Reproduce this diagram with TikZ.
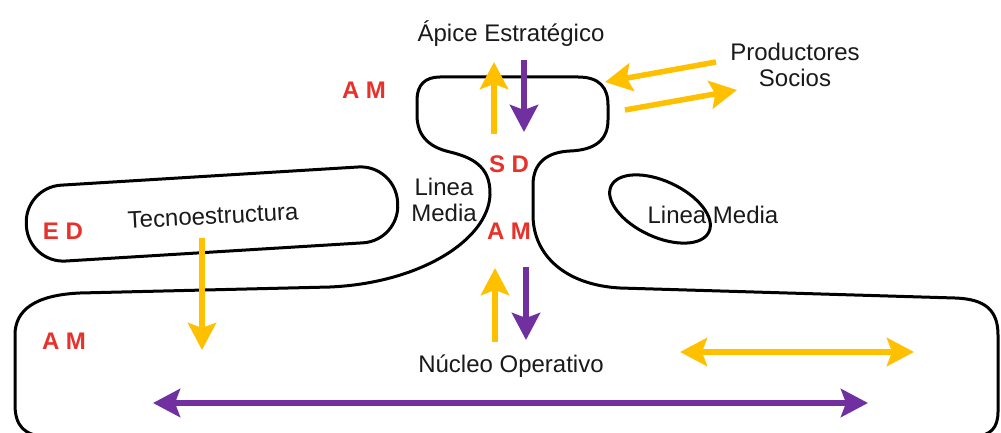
\documentclass[tikz,border=0pt]{standalone}
\usepackage{fontspec}
\setmainfont{Liberation Sans}
\usetikzlibrary{arrows.meta,shapes.geometric}
\definecolor{gold}{HTML}{FFC000}
\definecolor{purp}{HTML}{7030A0}
\definecolor{lab}{HTML}{E8312A}
\definecolor{txt}{HTML}{1A1A1A}
\begin{document}
\begin{tikzpicture}[x=1pt,y=-1pt,
  lbl/.style={text=txt,font=\fontsize{24}{25.5}\selectfont,inner sep=0pt,align=center},
  redlbl/.style={text=lab,font=\fontsize{24}{26}\selectfont\bfseries,inner sep=0pt},
  outline/.style={line width=3pt,black,line join=round},
  yarr/.style={gold,line width=5.5pt,-{Stealth[length=27pt,width=28pt,inset=5pt]}},
  parr/.style={purp,line width=5.5pt,-{Stealth[length=27pt,width=28pt,inset=5pt]}},
  ydbl/.style={gold,line width=5.5pt,{Stealth[length=27pt,width=28pt,inset=5pt]}-{Stealth[length=27pt,width=28pt,inset=5pt]}},
  pdbl/.style={purp,line width=5.5pt,{Stealth[length=27pt,width=28pt,inset=5pt]}-{Stealth[length=27pt,width=28pt,inset=5pt]}}]
\useasboundingbox (0,0) rectangle (1001,433);
\fill[white] (0,0) rectangle (1001,433);

% main outline: apex, neck and operating core
\draw[outline] (440,77) -- (578,77)
  .. controls (600,77) and (608,88) .. (608,105)
  -- (608,120)
  .. controls (608,140) and (595,150) .. (570,151)
  .. controls (548,152) and (533,162) .. (533,185)
  -- (533,215)
  .. controls (533,255) and (565,285) .. (620,288)
  -- (955,298)
  .. controls (985,299) and (998,310) .. (998,335)
  -- (998,412)
  .. controls (998,428) and (990,436) .. (975,436)
  -- (45,436)
  .. controls (25,436) and (15,426) .. (15,405)
  -- (15,335)
  .. controls (15,310) and (35,295) .. (80,293)
  -- (330,287)
  .. controls (420,283) and (488,240) .. (490,195)
  .. controls (491,165) and (470,157) .. (450,152)
  .. controls (428,147) and (417,135) .. (417,115)
  -- (417,100)
  .. controls (417,85) and (425,77) .. (440,77) -- cycle;

% technostructure box
\node[draw,outline,rounded corners=37pt,minimum width=372pt,minimum height=76pt,
  inner sep=0pt,rotate=3.5] (tbox) at (212,214) {};
% support staff ellipse
\node[draw,outline,ellipse,minimum width=108pt,minimum height=56pt,inner sep=0pt,
  rotate=-25] (ell) at (660,209) {};

% texts
\node[lbl] (apice) at (511,34) {Ápice Estratégico};
\node[lbl] (prod) at (795,65) {Productores\\Socios};
\node[redlbl] (am1) at (364,90) {A M};
\node[redlbl] (sd) at (509,164) {S D};
\node[lbl] (lm1) at (444,200) {Linea\\Media};
\node[redlbl] (am2) at (509,231) {A M};
\node[lbl,rotate=3] (tecno) at (213,216) {Tecnoestructura};
\node[redlbl] (ed) at (63,231) {E D};
\node[lbl] (lm2) at (713,215) {Linea Media};
\node[redlbl] (am3) at (64,341) {A M};
\node[lbl] (nucleo) at (511,366) {Núcleo Operativo};

% arrow end points
\coordinate (a1s) at (494,134); \coordinate (a1e) at (494,62);
\coordinate (a2s) at (524,60);  \coordinate (a2e) at (524,132);
\coordinate (a3s) at (716,62);  \coordinate (a3e) at (605,82);
\coordinate (a4s) at (625,110); \coordinate (a4e) at (737,90);
\coordinate (a5s) at (202,238); \coordinate (a5e) at (202,350);
\coordinate (a6s) at (495,342); \coordinate (a6e) at (495,268);
\coordinate (a7s) at (526,267); \coordinate (a7e) at (526,340);
\coordinate (a8s) at (680,352); \coordinate (a8e) at (914,352);
\coordinate (a9s) at (153,403); \coordinate (a9e) at (868,403);

\draw[yarr] (a1s) -- (a1e);
\draw[parr] (a2s) -- (a2e);
\draw[yarr] (a3s) -- (a3e);
\draw[yarr] (a4s) -- (a4e);
\draw[yarr] (a5s) -- (a5e);
\draw[yarr] (a6s) -- (a6e);
\draw[parr] (a7s) -- (a7e);
\draw[ydbl] (a8s) -- (a8e);
\draw[pdbl] (a9s) -- (a9e);
\end{tikzpicture}
\end{document}
